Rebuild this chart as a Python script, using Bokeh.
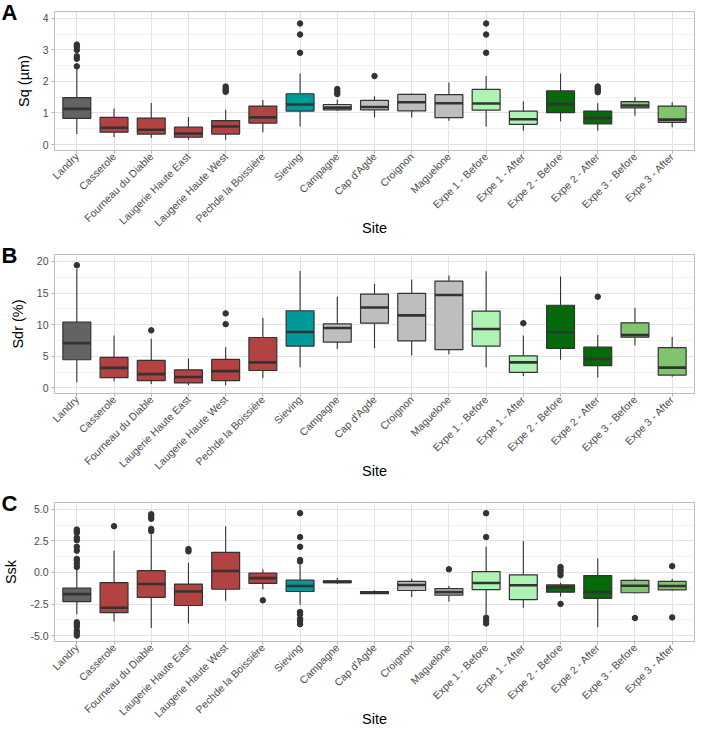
import math
from bokeh.plotting import figure
from bokeh.models import Range1d, FixedTicker, ColumnDataSource
from bokeh.layouts import column
from bokeh.embed import file_html
from bokeh.resources import INLINE

# ---------------- data ----------------
sites = ["Landry", "Casserole", "Fourneau du Diable", "Laugerie Haute East",
         "Laugerie Haute West", "Pechde la Boissière", "Sieving", "Campagne",
         "Cap d'Agde", "Croignon", "Maguelone", "Expe 1 - Before", "Expe 1 - After",
         "Expe 2 - Before", "Expe 2 - After", "Expe 3 - Before", "Expe 3 - After"]

site_colors = ["#636363", "#B34242", "#B34242", "#B34242", "#B34242", "#B34242",
               "#009999", "#BEBEBE", "#BEBEBE", "#BEBEBE", "#BEBEBE",
               "#AEF2B4", "#AEF2B4", "#066A0A", "#066A0A", "#80C46E", "#80C46E"]

# Sq (µm): lower whisker, q1, median, q3, upper whisker
sq_low = [0.33, 0.24, 0.21, 0.15, 0.15, 0.39, 0.57, 1.06, 0.86, 0.86, 0.75, 0.57, 0.44, 0.74, 0.44, 0.91, 0.55]
sq_q1 = [0.83, 0.39, 0.33, 0.23, 0.33, 0.68, 1.06, 1.10, 1.10, 1.07, 0.85, 1.09, 0.64, 1.01, 0.65, 1.16, 0.70]
sq_med = [1.13, 0.53, 0.47, 0.35, 0.57, 0.86, 1.27, 1.17, 1.19, 1.34, 1.31, 1.30, 0.80, 1.28, 0.84, 1.24, 0.79]
sq_q3 = [1.49, 0.86, 0.84, 0.55, 0.76, 1.22, 1.61, 1.27, 1.40, 1.59, 1.58, 1.75, 1.06, 1.70, 1.06, 1.36, 1.22]
sq_up = [2.40, 1.14, 1.32, 0.87, 1.10, 1.41, 2.25, 1.42, 1.53, 1.63, 1.97, 2.17, 1.37, 2.25, 1.31, 1.51, 1.34]
sq_out = [[2.48, 2.72, 2.80, 3.00, 3.10, 3.17], [], [], [], [1.67, 1.72, 1.78, 1.84], [],
          [2.91, 3.49, 3.84], [1.60, 1.68, 1.76], [2.17], [], [], [2.91, 3.49, 3.84], [], [],
          [1.66, 1.72, 1.78, 1.84], [], []]

# Sdr (%)
sdr_low = [0.88, 1.03, 0.62, 0.41, 0.41, 1.55, 3.26, 6.15, 6.25, 5.12, 5.32, 3.26, 1.86, 4.44, 1.65, 6.72, 1.76]
sdr_q1 = [4.44, 1.60, 1.14, 0.78, 1.14, 2.74, 6.61, 7.24, 10.23, 7.44, 6.05, 6.61, 2.43, 6.25, 3.51, 8.01, 2.02]
sdr_med = [7.08, 3.15, 2.17, 1.71, 2.64, 4.03, 8.84, 9.46, 12.71, 11.47, 14.68, 9.30, 4.03, 8.79, 4.55, 8.37, 3.20]
sdr_q3 = [10.39, 4.81, 4.34, 2.84, 4.50, 7.96, 12.20, 10.13, 14.83, 14.94, 16.90, 12.14, 5.06, 13.07, 6.46, 10.28, 6.36]
sdr_up = [18.8, 8.27, 7.75, 4.65, 6.41, 11.06, 18.50, 14.42, 16.49, 17.16, 17.78, 18.45, 8.27, 17.62, 8.37, 12.66, 8.06]
sdr_out = [[19.4], [], [9.1], [], [10.08, 11.78], [], [], [], [], [], [], [], [10.23], [],
           [14.42], [], []]

# Ssk
ssk_low = [-3.32, -3.89, -4.41, -4.02, -2.24, -1.33, -2.55, -0.92, -1.72, -1.95, -2.31, -3.32, -2.80, -1.90, -4.35, -1.65, -1.46]
ssk_q1 = [-2.31, -3.19, -1.98, -2.62, -1.33, -0.87, -1.51, -0.81, -1.67, -1.43, -1.80, -1.36, -2.16, -1.56, -2.05, -1.61, -1.38]
ssk_med = [-1.72, -2.80, -0.92, -1.51, 0.12, -0.45, -1.07, -0.75, -1.59, -0.99, -1.56, -0.84, -1.02, -1.18, -1.56, -1.05, -1.07]
ssk_q3 = [-1.25, -0.81, 0.14, -0.92, 1.59, -0.06, -0.61, -0.66, -1.51, -0.71, -1.28, 0.06, -0.19, -0.99, -0.25, -0.63, -0.71]
ssk_up = [0.25, 1.72, 3.01, 0.76, 3.66, 0.25, 0.60, -0.45, -1.41, -0.50, -1.07, 2.03, 2.49, -0.81, 1.12, -0.50, -0.50]
ssk_out = [[0.43, 0.68, 0.94, 1.07, 1.72, 2.03, 2.55, 2.75, 3.14, 3.27, 3.40,
            -3.95, -4.10, -4.30, -4.61, -4.82, -5.00],
           [3.66], [3.27, 3.45, 4.25, 4.43, 4.61], [1.67, 1.85], [], [-2.21],
           [0.87, 0.99, 2.03, 2.80, 4.69, -3.14, -3.32, -3.66, -3.84, -4.10],
           [], [], [], [0.25], [2.80, 4.69, -3.58, -3.84, -4.04], [],
           [-0.22, 0.04, 0.22, 0.43, -2.49], [], [-3.61], [0.50, -3.56]]

sq_ticks = [0, 1, 2, 3, 4]
sq_ticklabels = ["0", "1", "2", "3", "4"]
sdr_ticks = [0, 5, 10, 15, 20]
sdr_ticklabels = ["0", "5", "10", "15", "20"]
ssk_ticks = [-5.0, -2.5, 0.0, 2.5, 5.0]
ssk_ticklabels = ["-5.0", "-2.5", "0.0", "2.5", "5.0"]

FONT = "Liberation Sans"
BOX_W = 0.75
FRAME_W = 640
FRAME_H = 139
X_START, X_END = 0.4, len(sites) + 0.6


def make_panel(letter, ylabel, low, q1, med, q3, up, outs, yrange, ticks, ticklabels,
               minor, top_border):
    xs = list(range(1, len(sites) + 1))
    p = figure(frame_width=FRAME_W, frame_height=FRAME_H,
               x_range=Range1d(X_START, X_END), y_range=Range1d(*yrange),
               output_backend="svg", toolbar_location=None,
               min_border_left=54, min_border_right=4, min_border_top=top_border,
               min_border_bottom=0)
    p.background_fill_color = "white"
    p.border_fill_color = "white"
    p.outline_line_color = "#BDBDBD"
    p.outline_line_width = 1

    # panel letter as the figure title, pulled left of the y axis
    p.title.text = letter
    p.title.align = "left"
    p.title.offset = -53
    p.title.standoff = -26
    p.title.vertical_align = "bottom"
    p.title.text_font = FONT
    p.title.text_font_size = "22px"
    p.title.text_font_style = "bold"
    p.title.text_color = "black"

    # grid
    p.xgrid.ticker = FixedTicker(ticks=xs)
    p.xgrid.grid_line_color = "#E3E3E3"
    p.ygrid.ticker = FixedTicker(ticks=ticks, minor_ticks=minor)
    p.ygrid.grid_line_color = "#E3E3E3"
    p.ygrid.minor_grid_line_color = "#F1F1F1"

    # x axis
    p.xaxis.ticker = FixedTicker(ticks=xs)
    p.xaxis.major_label_overrides = {x: s for x, s in zip(xs, sites)}
    p.xaxis.major_label_orientation = math.pi / 4
    p.xaxis.axis_label = "Site"
    # y axis
    p.yaxis.ticker = FixedTicker(ticks=ticks)
    p.yaxis.major_label_overrides = {t: l for t, l in zip(ticks, ticklabels)}
    p.yaxis.axis_label = ylabel
    for ax in (p.xaxis, p.yaxis):
        ax.axis_line_color = None
        ax.major_tick_line_color = "#B3B3B3"
        ax.major_tick_out = 3
        ax.major_tick_in = 0
        ax.minor_tick_line_color = None
        ax.major_label_text_font = FONT
        ax.major_label_text_font_size = "10.5px"
        ax.major_label_text_color = "#4D4D4D"
        ax.axis_label_text_font = FONT
        ax.axis_label_text_font_size = "14.5px"
        ax.axis_label_text_font_style = "normal"
        ax.axis_label_text_color = "black"
    p.xaxis.major_label_standoff = 1
    p.xaxis.axis_label_standoff = -16
    p.yaxis.major_label_standoff = 3
    p.yaxis.axis_label_standoff = 8

    src = ColumnDataSource(dict(
        x=xs, xl=[x - BOX_W / 2 for x in xs], xr=[x + BOX_W / 2 for x in xs],
        low=low, q1=q1, med=med, q3=q3, up=up, color=site_colors))
    p.segment(x0="x", y0="low", x1="x", y1="q1", source=src, line_color="#333333", line_width=1.1)
    p.segment(x0="x", y0="q3", x1="x", y1="up", source=src, line_color="#333333", line_width=1.1)
    p.vbar(x="x", width=BOX_W, bottom="q1", top="q3", source=src,
           fill_color="color", line_color="#333333", line_width=1.2)
    p.segment(x0="xl", y0="med", x1="xr", y1="med", source=src,
              line_color="#333333", line_width=2.6)

    ox, oy = [], []
    for x, vals in zip(xs, outs):
        for v in vals:
            ox.append(x)
            oy.append(v)
    p.scatter(ox, oy, size=5.5, fill_color="#333333", line_color="#333333", marker="circle")
    return p


pA = make_panel("A", "Sq (µm)", sq_low, sq_q1, sq_med, sq_q3, sq_up, sq_out,
                (-0.19, 4.22), sq_ticks, sq_ticklabels, [0.5, 1.5, 2.5, 3.5], 11)
pB = make_panel("B", "Sdr (%)", sdr_low, sdr_q1, sdr_med, sdr_q3, sdr_up, sdr_out,
                (-0.9, 21.1), sdr_ticks, sdr_ticklabels, [2.5, 7.5, 12.5, 17.5], 16)
pC = make_panel("C", "Ssk", ssk_low, ssk_q1, ssk_med, ssk_q3, ssk_up, ssk_out,
                (-5.47, 5.54), ssk_ticks, ssk_ticklabels, [-3.75, -1.25, 1.25, 3.75], 21)

layout = column(pA, pB, pC, spacing=0)
open("out.html", "w").write(file_html(layout, INLINE))
